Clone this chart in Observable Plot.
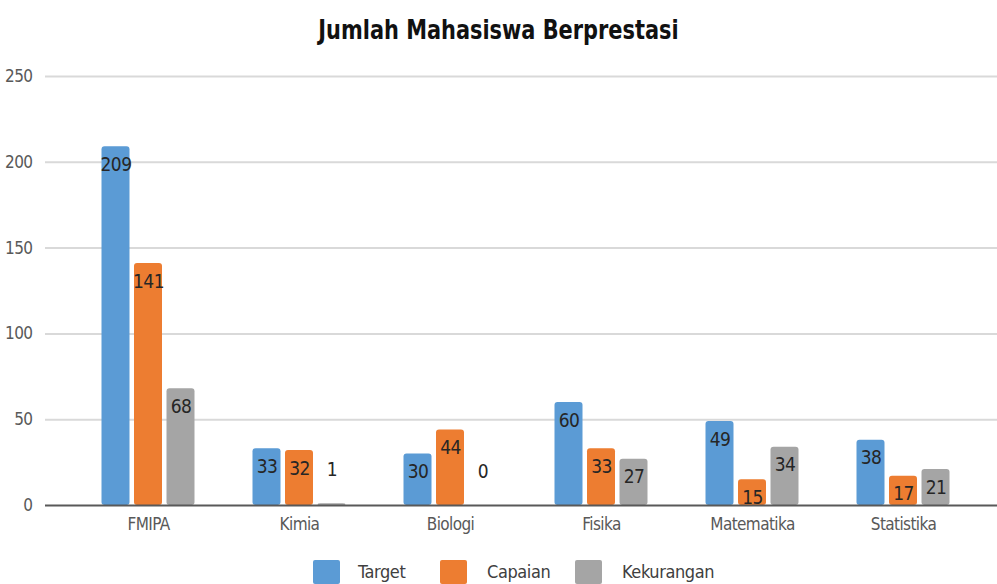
<!DOCTYPE html>
<html><head><meta charset="utf-8">
<script src="https://cdn.jsdelivr.net/npm/d3@7"></script>
<script src="https://cdn.jsdelivr.net/npm/@observablehq/plot@0.6"></script>
<style>
  body{margin:0;background:#fff;font-family:"Liberation Sans Narrow","DejaVu Sans Condensed","Roboto",sans-serif;}
  #wrap{position:relative;width:997px;height:584px;overflow:hidden;}
  #title{position:absolute;left:0;top:0;width:997px;height:50px;text-align:center;line-height:60px;}
  #title span{display:inline-block;font-size:27px;font-weight:bold;color:#111;transform:scaleX(0.86);}
  #chart{position:absolute;left:0;top:50px;}
  #chart svg text{letter-spacing:-0.6px;}
  .lg-sq{position:absolute;top:560px;width:27px;height:24px;border-radius:2px;}
  .lg-tx{position:absolute;top:561px;font-size:18px;color:#404040;line-height:22px;letter-spacing:-0.4px;}
</style></head>
<body>
<div id="wrap">
  <div id="title"><span>Jumlah Mahasiswa Berprestasi</span></div>
  <div id="chart"></div>
  <div id="legend"></div>
</div>
<script>
const categories = ["FMIPA","Kimia","Biologi","Fisika","Matematika","Statistika"];
const seriesNames = ["Target","Capaian","Kekurangan"];
const target = [209,33,30,60,49,38];
const capaian = [141,32,44,33,15,17];
const kekurangan = [68,1,0,27,34,21];
const yTicks = [0,50,100,150,200,250];
const colors = ["#5B9BD5","#ED7D31","#A5A5A5"];

const seriesValues = [target, capaian, kekurangan];
const rows = [];
seriesValues.forEach((vals, s) => vals.forEach((v, i) => rows.push({cat: categories[i], series: seriesNames[s], s, value: v})));

const offsets = [-32.5, 0, 32.5];
const font = '"Liberation Sans Narrow","DejaVu Sans Condensed","Roboto",sans-serif';

const marks = [
  Plot.ruleY(yTicks.filter(t => t > 0), {stroke: "#d9d9d9", strokeWidth: 2})
];
seriesNames.forEach((name, s) => {
  const data = rows.filter(d => d.s === s);
  marks.push(Plot.barY(data, {x: "cat", y: "value", fill: colors[s], dx: offsets[s], rx: 3}));
  marks.push(Plot.text(data.filter(d => d.value >= 5), {x: "cat", y: "value", text: d => String(d.value), dx: offsets[s], dy: 18, fill: "#262626", fontSize: 19}));
  marks.push(Plot.text(data.filter(d => d.value < 5), {x: "cat", y: "value", text: d => String(d.value), dx: offsets[s], dy: -34, fill: "#262626", fontSize: 19}));
});
marks.push(Plot.ruleY([0], {stroke: "#595959", strokeWidth: 2}));

const chart = Plot.plot({
  width: 997,
  height: 500,
  marginLeft: 45,
  marginRight: 0,
  marginTop: 26,
  marginBottom: 45,
  style: {fontFamily: font, fontSize: "17px", color: "#595959", background: "white", overflow: "visible"},
  x: {domain: categories, range: [70.6, 980.6], paddingInner: 0.8154, paddingOuter: 0.4077, label: null, tickSize: 0, tickPadding: 12},
  y: {domain: [0, 250], ticks: yTicks, tickSize: 0, tickPadding: 13, label: null},
  marks
});
document.getElementById("chart").appendChild(chart);

const legend = document.getElementById("legend");
const sqX = [313, 440, 575];
const txX = [358, 487, 622];
seriesNames.forEach((name, s) => {
  const sq = document.createElement("div");
  sq.className = "lg-sq"; sq.style.left = sqX[s] + "px"; sq.style.background = colors[s];
  const tx = document.createElement("div");
  tx.className = "lg-tx"; tx.style.left = txX[s] + "px"; tx.textContent = name;
  legend.appendChild(sq); legend.appendChild(tx);
});
</script>
</body></html>
